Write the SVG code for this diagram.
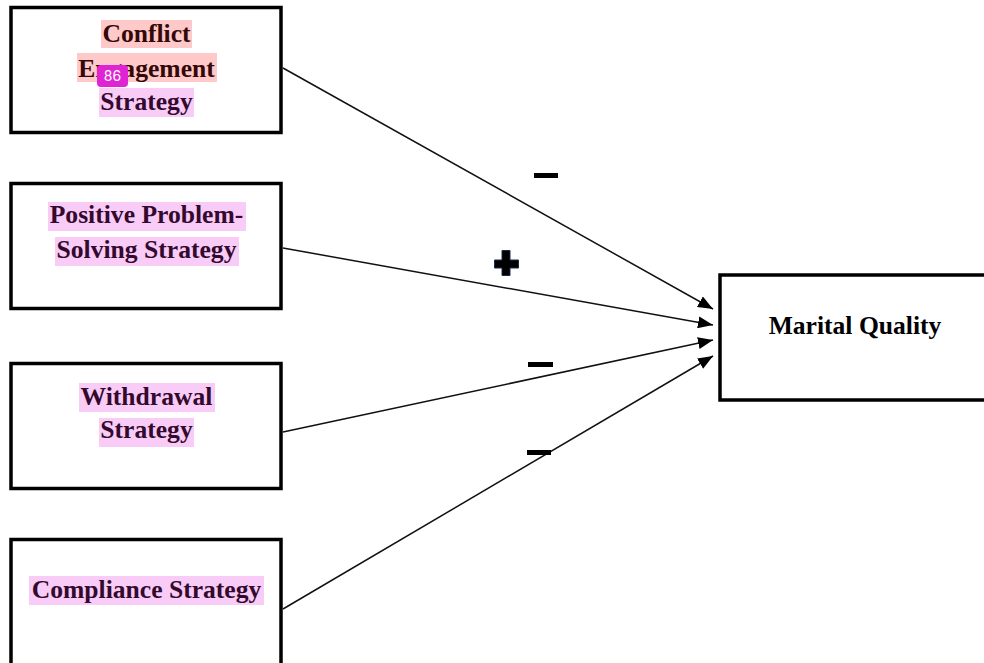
<svg xmlns="http://www.w3.org/2000/svg" width="984" height="663" viewBox="0 0 984 663">
<defs>
<style>
.box{fill:#fff;stroke:#000;stroke-width:3.5}
.t{font-family:"Liberation Serif","Times New Roman",serif;font-weight:bold;font-size:25.6px;text-anchor:middle}
.hp{fill:#ffc9c9}
.hv{fill:#f9ccf7}
.tp{fill:#330808}
.tv{fill:#330a2d}
.tb{fill:#000}
.edge{stroke:#111;stroke-width:1.5;fill:none;marker-end:url(#arr)}
.sign{fill:#000}
</style>
<marker id="arr" markerUnits="userSpaceOnUse" markerWidth="16" markerHeight="12" refX="15" refY="6" orient="auto">
<path d="M0,0 L15,6 L0,12 z" fill="#000"/>
</marker>
</defs>
<rect width="984" height="663" fill="#fff"/>
<g id="connectors">
<line class="edge" x1="283" y1="68" x2="713" y2="309"/>
<line class="edge" x1="283" y1="248" x2="713" y2="325"/>
<line class="edge" x1="283" y1="432" x2="713" y2="340"/>
<line class="edge" x1="283" y1="609" x2="713" y2="356"/>
</g>
<g id="signs">
<rect class="sign" x="534" y="173" width="24" height="5"/>
<path d="M502,250.5 h8 v9.5 h8.5 v8 h-8.5 v7.5 h-8 v-7.5 h-7.5 v-8 h7.5 z" fill="#000" stroke="#1d2a4a" stroke-width="1"/>
<rect class="sign" x="528" y="362" width="25" height="5"/>
<rect class="sign" x="527" y="450" width="24" height="5"/>
</g>
<g id="node-conflict">
<rect class="box" x="11" y="7.5" width="270" height="125"/>
<rect class="hp" x="101" y="20" width="91" height="28"/>
<rect class="hp" x="77" y="53" width="140" height="29"/>
<rect class="hv" x="99" y="88" width="95" height="29"/>
<text class="t tp" x="146.5" y="42">Conflict</text>
<text class="t tp" x="146.5" y="77">Engagement</text>
<text class="t tv" x="146.5" y="110">Strategy</text>
<rect x="97" y="65" width="31" height="22" rx="4" fill="#e024d4"/>
<text x="112.5" y="81" font-family="Inter,'Noto Sans',sans-serif" font-size="14" fill="#fff" text-anchor="middle">86</text>
</g>
<g id="node-positive">
<rect class="box" x="11" y="183.5" width="270" height="125"/>
<rect class="hv" x="48" y="202" width="198" height="29"/>
<rect class="hv" x="55" y="237" width="184" height="29"/>
<text class="t tv" x="146.5" y="223">Positive Problem-</text>
<text class="t tv" x="146.5" y="258">Solving Strategy</text>
</g>
<g id="node-withdrawal">
<rect class="box" x="11" y="363.5" width="270" height="125"/>
<rect class="hv" x="79" y="383" width="136" height="29"/>
<rect class="hv" x="99" y="418" width="95" height="29"/>
<text class="t tv" x="146.5" y="405">Withdrawal</text>
<text class="t tv" x="146.5" y="438">Strategy</text>
</g>
<g id="node-compliance">
<rect class="box" x="11" y="539.5" width="270" height="135"/>
<rect class="hv" x="29" y="576" width="235" height="29"/>
<text class="t tv" x="146.5" y="598">Compliance Strategy</text>
</g>
<g id="node-marital">
<rect class="box" x="720" y="275" width="272" height="125"/>
<text class="t tb" x="855" y="334">Marital Quality</text>
</g>
</svg>
